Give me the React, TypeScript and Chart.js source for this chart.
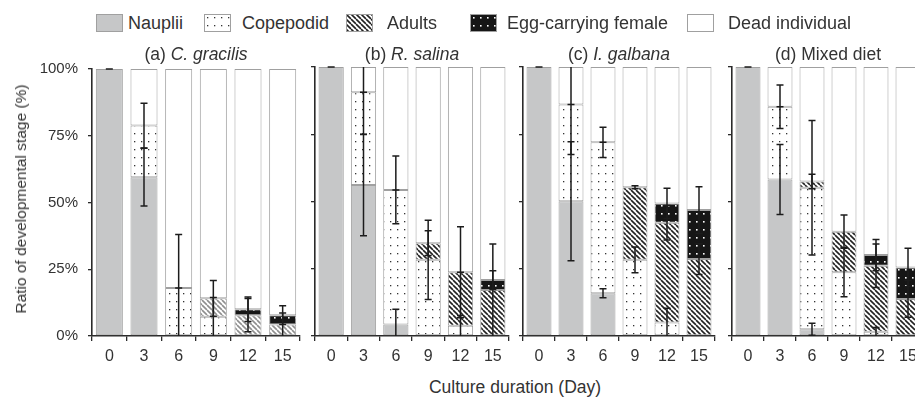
import React, { useEffect, useRef } from 'react';
import { Chart, registerables } from 'chart.js';

Chart.register(...registerables);

// ---- data -------------------------------------------------------------
const days = ['0', '3', '6', '9', '12', '15'];

const dietPrefix = ['(a) ', '(b) ', '(c) ', '(d) '];
const dietNames = ['C. gracilis', 'R. salina', 'I. galbana', 'Mixed diet'];
const dietItalic = [true, true, true, false];

const stageNames = ['Nauplii', 'Copepodid', 'Adults', 'Egg-carrying female', 'Dead individual'];

// Share of individuals (%) in each stage; rows = diet (a–d), columns = day
const nauplii = [
  [100, 59.5, 0, 0, 0, 0],
  [100, 56.1, 4.3, 0, 0, 0],
  [100, 50.1, 15.9, 0, 0, 0],
  [100, 58.2, 2.5, 0, 0, 0],
];
const copepodid = [
  [0, 19.3, 18.0, 7.2, 0, 0],
  [0, 34.5, 50.0, 28.3, 3.8, 0],
  [0, 36.0, 56.1, 28.3, 5.0, 0],
  [0, 27.0, 52.6, 23.7, 1.6, 0],
];
const adults = [
  [0, 0, 0, 6.9, 7.8, 4.3],
  [0, 0, 0, 6.2, 19.9, 17.1],
  [0, 0, 0, 27.0, 37.1, 28.6],
  [0, 0, 2.3, 15.1, 24.5, 13.8],
];
const eggFemale = [
  [0, 0, 0, 0, 2.2, 3.5],
  [0, 0, 0, 0, 0, 3.7],
  [0, 0, 0, 0, 7.2, 18.2],
  [0, 0, 0, 0, 4.0, 11.7],
];

// Standard deviations at the top of each stacked segment (null = none)
const naupliiSd = [
  [0, 10.8, null, null, null, null],
  [0, 18.8, 5.6, null, null, null],
  [0, 22.1, 1.7, null, null, null],
  [0, 13.0, 2.2, null, null, null],
];
const copepodidSd = [
  [null, 8.4, 20.0, 7.2, null, null],
  [null, 15.6, 12.6, 14.7, 3.8, null],
  [null, 18.6, 5.6, 4.8, 5.3, null],
  [null, 8.1, 25.0, 9.1, 1.6, null],
];
const adultsSd = [
  [null, null, 0, 6.7, 6.2, 4.3],
  [null, 0, 0, 4.6, 16.9, 17.1],
  [null, 0, 0, 0.6, 6.4, 5.7],
  [null, 0, 2.7, 6.2, 8.1, 6.8],
];
const eggFemaleSd = [
  [null, null, null, null, 4.6, 3.5],
  [null, null, null, null, 0, 3.5],
  [null, null, null, null, 5.6, 8.7],
  [null, null, null, null, 5.8, 7.1],
];

const yTicks = [0, 25, 50, 75, 100];

// ---- layout & style ---------------------------------------------------
const FONT = "'Liberation Sans', Arial, sans-serif";
const TEXT = '#333333';
const AXIS = '#2a2a2a';
const EDGE = '#a0a0a0';
const NAUPLII_FILL = '#c6c7c8';

const panelBox = [
  { left: 92, right: 300, axisW: 80 },
  { left: 315, right: 509, axisW: 12 },
  { left: 523, right: 715, axisW: 12 },
  { left: 732, right: 924, axisW: 12 },
];
const PLOT_TOP = 67;
const PLOT_BOTTOM = 336;
const PAD_TOP = 17;
const PAD_RIGHT = 6;
const X_AXIS_H = 40;
const hatchColors = ['#8f8f8f', '#222222', '#222222', '#222222'];

const legendSwatchX = [96, 204, 346, 470, 687];
const legendTextX = [128, 242, 387, 507, 728];

// ---- fill patterns ----------------------------------------------------
function dotTile(bg: string, fg: string, size: number) {
  const c = document.createElement('canvas');
  c.width = 7;
  c.height = 8;
  const g = c.getContext('2d')!;
  g.fillStyle = bg;
  g.fillRect(0, 0, 7, 8);
  g.fillStyle = fg;
  g.fillRect(3, 3, size, size);
  return c;
}

function hatchTile(fg: string) {
  const s = 5;
  const c = document.createElement('canvas');
  c.width = s;
  c.height = s;
  const g = c.getContext('2d')!;
  g.fillStyle = '#ffffff';
  g.fillRect(0, 0, s, s);
  g.strokeStyle = fg;
  g.lineWidth = 1.6;
  g.beginPath();
  for (const k of [-1, 0, 1]) {
    g.moveTo(k * s, 0);
    g.lineTo(k * s + s, s);
  }
  g.stroke();
  return c;
}

function stageFills(ctx: CanvasRenderingContext2D, hatch: string) {
  return [
    NAUPLII_FILL,
    ctx.createPattern(dotTile('#ffffff', '#333333', 1.3), 'repeat')!,
    ctx.createPattern(hatchTile(hatch), 'repeat')!,
    ctx.createPattern(dotTile('#161616', '#ffffff', 1.6), 'repeat')!,
    '#ffffff',
  ];
}

// ---- error bars drawn on the stacked segments --------------------------
function errorBarPlugin(sds: (number | null)[][]) {
  return {
    id: 'errorBars',
    afterDatasetsDraw(chart: any) {
      const y = chart.scales.y;
      const ctx: CanvasRenderingContext2D = chart.ctx;
      ctx.save();
      ctx.strokeStyle = '#1c1c1c';
      ctx.lineWidth = 1.5;
      const cap = 3.5;
      sds.forEach((sd, k) => {
        const meta = chart.getDatasetMeta(k);
        sd.forEach((e, i) => {
          if (e == null) return;
          let cum = 0;
          for (let j = 0; j <= k; j++) cum += chart.data.datasets[j].data[i] ?? 0;
          const x = meta.data[i].x;
          const lo = Math.max(0, cum - e);
          const hi = Math.min(100, cum + e);
          const p0 = y.getPixelForValue(lo);
          const p1 = y.getPixelForValue(hi);
          ctx.beginPath();
          ctx.moveTo(x, p0);
          ctx.lineTo(x, p1);
          if (cum - e > 0 || e === 0) {
            ctx.moveTo(x - cap, p0);
            ctx.lineTo(x + cap, p0);
          }
          if (cum + e < 100 || e === 0) {
            ctx.moveTo(x - cap, p1);
            ctx.lineTo(x + cap, p1);
          }
          ctx.stroke();
        });
      });
      ctx.restore();
    },
  };
}

function Panel({ index }: { index: number }) {
  const ref = useRef<HTMLCanvasElement>(null);
  const box = panelBox[index];
  const width = box.axisW + (box.right - box.left) + PAD_RIGHT;
  const height = PAD_TOP + (PLOT_BOTTOM - PLOT_TOP) + X_AXIS_H;

  useEffect(() => {
    const canvas = ref.current!;
    const ctx = canvas.getContext('2d')!;
    const fills = stageFills(ctx, hatchColors[index]);
    const stages = [nauplii[index], copepodid[index], adults[index], eggFemale[index]];
    const dead = days.map((_, i) => 100 - stages.reduce((s, a) => s + a[i], 0));
    const series = [...stages, dead];
    const nz = (arr: number[]) => arr.map((v) => (v > 0.001 ? v : null));

    const chart = new Chart(canvas, {
      type: 'bar',
      data: {
        labels: days,
        datasets: series.map((arr, k) => ({
          label: stageNames[k],
          data: nz(arr),
          backgroundColor: fills[k] as any,
          borderColor: EDGE,
          borderWidth: 1,
          borderSkipped: false,
          barPercentage: 0.78,
          categoryPercentage: 1,
        })),
      },
      options: {
        animation: false,
        responsive: false,
        devicePixelRatio: 1,
        layout: { padding: { top: PAD_TOP, right: PAD_RIGHT, left: 0, bottom: 0 } },
        plugins: {
          legend: { display: false },
          tooltip: { enabled: false },
          title: { display: false },
        },
        scales: {
          x: {
            stacked: true,
            grid: {
              display: true,
              drawOnChartArea: false,
              drawTicks: true,
              tickLength: 5,
              color: AXIS,
              lineWidth: 1.3,
            },
            border: { display: true, color: AXIS, width: 1.6 },
            ticks: {
              color: TEXT,
              font: { family: FONT, size: 16 },
              padding: 6,
              maxRotation: 0,
              autoSkip: false,
            },
            afterFit: (s: any) => {
              s.height = X_AXIS_H;
            },
          },
          y: {
            stacked: true,
            min: 0,
            max: 100,
            afterBuildTicks: (s: any) => {
              s.ticks = yTicks.map((v) => ({ value: v }));
            },
            grid: {
              display: true,
              drawOnChartArea: false,
              drawTicks: true,
              tickLength: 4,
              color: AXIS,
              lineWidth: 1.3,
            },
            border: { display: true, color: AXIS, width: 1.6 },
            ticks: {
              display: index === 0,
              color: TEXT,
              font: { family: FONT, size: 15 },
              padding: 10,
              callback: (v: any) => `${v}%`,
            },
            afterFit: (s: any) => {
              s.width = box.axisW;
            },
          },
        },
      },
      plugins: [errorBarPlugin([naupliiSd[index], copepodidSd[index], adultsSd[index], eggFemaleSd[index]])],
    });
    return () => chart.destroy();
  }, [index]);

  return (
    <canvas
      ref={ref}
      width={width}
      height={height}
      style={{
        position: 'absolute',
        left: box.left - box.axisW,
        top: PLOT_TOP - PAD_TOP,
        width,
        height,
      }}
    />
  );
}

function Swatch({ stage }: { stage: number }) {
  const ref = useRef<HTMLCanvasElement>(null);
  useEffect(() => {
    const c = ref.current!;
    const g = c.getContext('2d')!;
    const fills = stageFills(g, '#222222');
    g.clearRect(0, 0, c.width, c.height);
    g.fillStyle = fills[stage] as any;
    g.fillRect(0, 0, c.width, c.height);
    g.strokeStyle = EDGE;
    g.lineWidth = 1;
    g.strokeRect(0.5, 0.5, c.width - 1, c.height - 1);
  }, [stage]);
  return (
    <canvas
      ref={ref}
      width={27}
      height={18}
      style={{ position: 'absolute', left: legendSwatchX[stage], top: 14, width: 27, height: 18 }}
    />
  );
}

export default function App() {
  const textStyle: React.CSSProperties = {
    position: 'absolute',
    fontFamily: FONT,
    color: TEXT,
    whiteSpace: 'nowrap',
  };
  return (
    <div
      style={{
        position: 'absolute',
        left: 0,
        top: 0,
        width: 915,
        height: 401,
        overflow: 'hidden',
        background: '#ffffff',
      }}
    >
      {panelBox.map((_, i) => (
        <Panel key={i} index={i} />
      ))}

      {stageNames.map((name, k) => (
        <React.Fragment key={name}>
          <Swatch stage={k} />
          <div style={{ ...textStyle, left: legendTextX[k], top: 12, fontSize: 18, lineHeight: '22px' }}>{name}</div>
        </React.Fragment>
      ))}

      {panelBox.map((b, i) => (
        <div
          key={i}
          style={{
            ...textStyle,
            left: (b.left + b.right) / 2,
            top: 44,
            transform: 'translateX(-50%)',
            fontSize: 17.5,
            lineHeight: '20px',
          }}
        >
          {dietPrefix[i]}
          {dietItalic[i] ? <i>{dietNames[i]}</i> : dietNames[i]}
        </div>
      ))}

      <div
        style={{
          ...textStyle,
          left: 21,
          top: 199,
          transform: 'translate(-50%, -50%) rotate(-90deg)',
          fontSize: 15.5,
          lineHeight: '20px',
        }}
      >
        Ratio of developmental stage (%)
      </div>

      <div
        style={{
          ...textStyle,
          left: 515,
          top: 387,
          transform: 'translate(-50%, -50%)',
          fontSize: 17.5,
          lineHeight: '20px',
        }}
      >
        Culture duration (Day)
      </div>
    </div>
  );
}
